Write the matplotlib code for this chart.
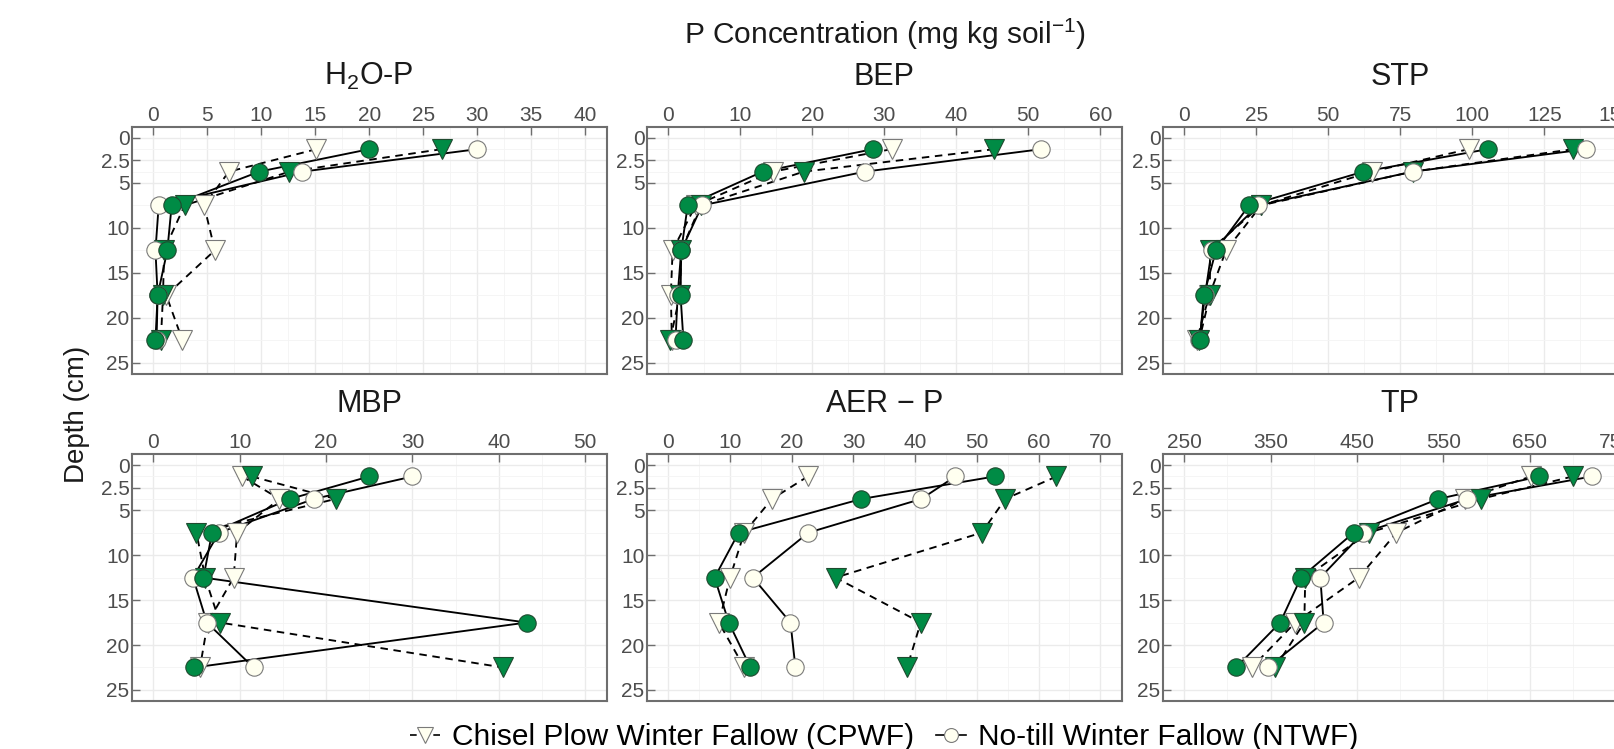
import matplotlib
matplotlib.use("Agg")
import matplotlib.pyplot as plt
from matplotlib.lines import Line2D
import numpy as np

plt.rcParams['font.family'] = ['Liberation Sans', 'DejaVu Sans']
plt.rcParams['mathtext.fontset'] = 'custom'
plt.rcParams['mathtext.rm'] = 'Liberation Sans'
plt.rcParams['mathtext.it'] = 'Liberation Sans:italic'
plt.rcParams['mathtext.bf'] = 'Liberation Sans:bold'
plt.rcParams['mathtext.sf'] = 'Liberation Sans'

# ---------------- data ----------------
depths = [1.25, 3.75, 7.5, 12.5, 17.5, 22.5]
depth_ticks = [0, 2.5, 5, 10, 15, 20, 25]
depth_labels = ['0', '2.5', '5', '10', '15', '20', '25']

treatments = ['CPWF', 'NTWF', 'CPCC', 'NTCC']
legend_labels = {'CPWF': 'Chisel Plow Winter Fallow (CPWF)',
                 'NTWF': 'No-till Winter Fallow (NTWF)',
                 'CPCC': 'Chisel Plow Cover Crop (CPCC)',
                 'NTCC': 'No-till Cover Crop (NTCC)'}

panel_titles = ['H$_2$O-P', 'BEP', 'STP', 'MBP', 'AER $-$ P', 'TP']

h2op_cpwf = [15.1, 7.0, 4.7, 5.7, 1.2, 2.7]
h2op_ntwf = [30.0, 13.8, 0.5, 0.2, 0.4, 0.3]
h2op_cpcc = [26.7, 12.6, 2.9, 1.0, 0.9, 0.7]
h2op_ntcc = [20.0, 9.8, 1.7, 1.3, 0.4, 0.2]

bep_cpwf = [31.0, 14.5, 3.8, 0.6, 0.35, 0.5]
bep_ntwf = [51.8, 27.3, 4.7, 1.8, 1.3, 1.0]
bep_cpcc = [45.3, 18.8, 4.5, 1.8, 1.6, 0.25]
bep_ntcc = [28.4, 13.1, 2.7, 1.8, 1.7, 2.1]

stp_cpwf = [98.7, 65.1, 26.7, 14.5, 8.7, 4.3]
stp_ntwf = [139.5, 79.3, 25.7, 9.5, 7.2, 5.2]
stp_cpcc = [135.0, 79.3, 26.7, 8.9, 8.9, 5.2]
stp_ntcc = [105.3, 62.2, 22.5, 11.0, 6.8, 5.4]

mbp_cpwf = [10.3, 14.6, 9.7, 9.3, 6.3, 5.4]
mbp_ntwf = [30.0, 18.6, 7.6, 4.6, 6.2, 11.6]
mbp_cpcc = [11.4, 21.1, 5.0, 6.0, 7.7, 40.5]
mbp_ntcc = [25.0, 15.8, 6.8, 5.8, 43.2, 4.7]

aer_cpwf = [22.6, 16.8, 12.3, 10.0, 8.2, 12.3]
aer_ntwf = [46.5, 41.0, 22.7, 13.7, 19.8, 20.6]
aer_cpcc = [62.9, 54.6, 50.8, 27.1, 40.9, 38.7]
aer_ntcc = [52.9, 31.3, 11.4, 7.5, 9.8, 13.3]

tp_cpwf = [651, 575, 495.6, 451.9, 378.4, 328.1]
tp_ntwf = [721.6, 577.7, 457, 407.4, 411.3, 346.7]
tp_cpcc = [699.5, 593.1, 463.5, 390, 388.9, 355.2]
tp_ntcc = [660.8, 544, 446.1, 385, 361, 310]

x_ticks = [np.arange(0, 41, 5), np.arange(0, 61, 10), np.arange(0, 151, 25),
           np.arange(0, 51, 10), np.arange(0, 71, 10), np.arange(250, 751, 100)]

panels = [
    (h2op_cpwf, h2op_ntwf, h2op_cpcc, h2op_ntcc),
    (bep_cpwf, bep_ntwf, bep_cpcc, bep_ntcc),
    (stp_cpwf, stp_ntwf, stp_cpcc, stp_ntcc),
    (mbp_cpwf, mbp_ntwf, mbp_cpcc, mbp_ntcc),
    (aer_cpwf, aer_ntwf, aer_cpcc, aer_ntcc),
    (tp_cpwf, tp_ntwf, tp_cpcc, tp_ntcc),
]

# ---------------- styles ----------------
IVORY = '#FFFFF0'
GREEN = '#008B45'
styles = {
    'CPWF': dict(marker='v', mfc=IVORY, mec='#7a7a7a', ls=(0, (4, 3)), ms=15),
    'NTWF': dict(marker='o', mfc=IVORY, mec='#7a7a7a', ls='-', ms=12.5),
    'CPCC': dict(marker='v', mfc=GREEN, mec='#1f4a2f', ls=(0, (4, 3)), ms=15),
    'NTCC': dict(marker='o', mfc=GREEN, mec='#1f4a2f', ls='-', ms=12.5),
}
draw_order = ['CPWF', 'CPCC', 'NTWF', 'NTCC']

W, H = 1615, 749
fig = plt.figure(figsize=(W / 100, H / 100), dpi=100)

col_left = [131.7, 646.7, 1162.7]
row_top = [126.7, 454.0]
pw, ph = 475.2, 247.2

SPINE = '#6e6e6e'
TICKC = '#4d4d4d'

for i, (title, data, xt) in enumerate(zip(panel_titles, panels, x_ticks)):
    r, c = divmod(i, 3)
    ax = fig.add_axes([col_left[c] / W, 1 - (row_top[r] + ph) / H, pw / W, ph / H])
    span = xt[-1] - xt[0]
    ax.set_xlim(xt[0] - 0.05 * span, xt[-1] + 0.05 * span)
    ax.set_ylim(26.25, -1.25)
    ax.set_xticks(xt)
    ax.set_xticklabels([str(v) for v in xt])
    step = xt[1] - xt[0]
    ax.set_xticks(np.arange(xt[0] + step / 2, xt[-1], step), minor=True)
    ax.set_yticks(depth_ticks)
    ax.set_yticklabels(depth_labels)
    ax.set_yticks(depths, minor=True)
    ax.xaxis.tick_top()
    ax.tick_params(axis='both', which='major', direction='in', length=5.5, width=1.0,
                   color=SPINE, labelsize=15, labelcolor=TICKC, pad=1.5)
    ax.tick_params(axis='both', which='minor', length=0)
    ax.grid(True, which='major', color='#EBEBEB', lw=1.0, zorder=0)
    ax.grid(True, which='minor', color='#F4F4F4', lw=0.6, zorder=0)
    ax.set_axisbelow(True)
    for s in ax.spines.values():
        s.set_color(SPINE)
        s.set_linewidth(1.5)
    vals = dict(zip(treatments, data))
    for t in draw_order:
        st = styles[t]
        ax.plot(vals[t], depths, color='black', ls=st['ls'], lw=1.35, zorder=2)
    for t in draw_order:
        st = styles[t]
        ax.plot(vals[t], depths, ls='none', marker=st['marker'], ms=st['ms'],
                mfc=st['mfc'], mec=st['mec'], mew=0.8, zorder=3)
    ax.text(0.5, 1 + 50 / ph, title, transform=ax.transAxes, ha='center', va='center',
            fontsize=22, color='#1a1a1a')

fig.text(884.7 / W, 1 - 34 / H, 'P Concentration (mg kg soil$^{-1}$)', ha='center',
         va='center', fontsize=21.5, color='#1a1a1a')
fig.text(77 / W, 1 - 414 / H, 'Depth (cm)', rotation=90, ha='center', va='center',
         fontsize=20, color='#1a1a1a')

# legend: two columns, rows filled CPWF, NTWF / CPCC, NTCC (second row lies below the crop)
legend_order = ['CPWF', 'CPCC', 'NTWF', 'NTCC']
handles = []
for t in legend_order:
    st = styles[t]
    handles.append(Line2D([0], [0], color='black', ls=st['ls'], lw=1.2, marker=st['marker'],
                          ms=st['ms'] * 0.8, mfc=st['mfc'], mec=st['mec'], mew=0.8))
fig.legend(handles, [legend_labels[t] for t in legend_order], loc='upper left',
           bbox_to_anchor=(410 / W, 1 - 723 / H), ncol=2, frameon=False, fontsize=21.5,
           handlelength=1.0, handletextpad=0.4, columnspacing=0.75, borderpad=0,
           borderaxespad=0)

fig.savefig('out.png', dpi=100)
